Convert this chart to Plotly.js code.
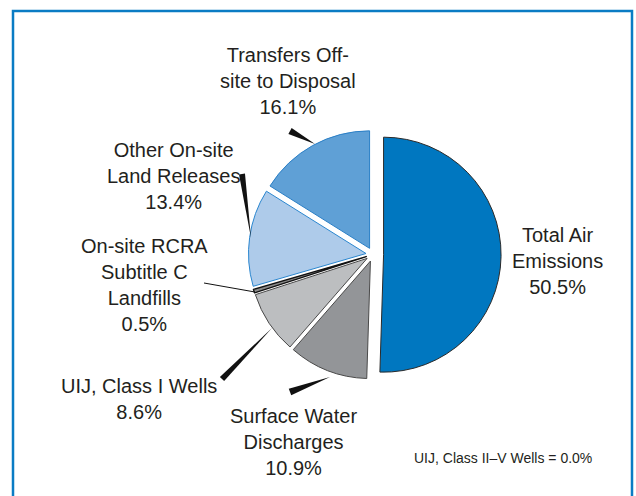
<!DOCTYPE html>
<html>
<head>
<meta charset="utf-8">
<script src="https://cdn.plot.ly/plotly-3.0.1.min.js"></script>
<style>
  html, body { margin: 0; padding: 0; background: #ffffff; }
  #chart { width: 636px; height: 496px; }
</style>
</head>
<body>
<div id="chart"></div>
<script>
// ---- data ----
const categories = [
  'Total Air Emissions',
  'Surface Water Discharges',
  'UIJ, Class I Wells',
  'On-site RCRA Subtitle C Landfills',
  'Other On-site Land Releases',
  'Transfers Off-site to Disposal'
];
const shares = [50.5, 10.9, 8.6, 0.5, 13.4, 16.1];
const labelLines = [
  'Total Air<br>Emissions',
  'Surface Water<br>Discharges',
  'UIJ, Class I Wells',
  'On-site RCRA<br>Subtitle C<br>Landfills',
  'Other On-site<br>Land Releases',
  'Transfers Off-<br>site to Disposal'
];
const footnoteCategory = 'UIJ, Class II\u2013V Wells';
const footnoteShare = 0.0;

// ---- styling ----
const sliceColors = ['#0077c0', '#939598', '#bcbec0', '#8a8a8a', '#aecbea', '#5fa0d6'];
const sliceLines  = ['#2a2a2a', '#4a4a4a', '#4a4a4a', '#111111', '#2a86cf', '#2a7fc6'];
const sliceLineW  = [1, 1, 1, 1.4, 1, 1];
const slicePull   = [0.09, 0.06, 0.06, 0.06, 0.06, 0.06];

const W = 636, H = 496;
const px = x => x / W;
const py = y => 1 - y / H;

// label placement (pixel centres)
const labelPos = [
  [557, 261], [293, 442], [139, 399], [144, 285], [173, 176], [288, 81]
];
// pointer wedges: [thickX, thickY, tipX, tipY, width]
const pointers = [
  [290, 131, 315, 144, 7],
  [242, 174, 251, 238, 6],
  [222, 379, 272, 328, 6],
  [290, 392, 330, 377, 7]
];
const leader = [204, 283, 255, 292];

const FONT = 'Liberation Sans, Arial, Helvetica, sans-serif';
const TXT = '#231f20';

const annotations = categories.map((c, i) => ({
  xref: 'paper', yref: 'paper',
  x: px(labelPos[i][0]), y: py(labelPos[i][1]),
  xanchor: 'center', yanchor: 'middle',
  text: labelLines[i] + '<br>' + shares[i].toFixed(1) + '%',
  showarrow: false, align: 'center',
  font: { family: FONT, size: 20, color: TXT }
}));
annotations.push({
  xref: 'paper', yref: 'paper',
  x: px(503), y: py(458), xanchor: 'center', yanchor: 'middle',
  text: footnoteCategory + ' = ' + footnoteShare.toFixed(1) + '%',
  showarrow: false,
  font: { family: FONT, size: 14, color: TXT }
});

const shapes = [];
// frame
shapes.push({
  type: 'rect', xref: 'paper', yref: 'paper',
  x0: px(13), x1: px(632), y0: py(520), y1: py(11),
  line: { color: '#0a7cc4', width: 2.5 }, fillcolor: 'rgba(0,0,0,0)', layer: 'below'
});
pointers.forEach(p => {
  const [x0, y0, x1, y1, w] = p;
  const dx = x1 - x0, dy = y1 - y0, L = Math.hypot(dx, dy);
  const nx = -dy / L * w / 2, ny = dx / L * w / 2;
  const path = 'M ' + px(x0 + nx) + ' ' + py(y0 + ny) +
               ' L ' + px(x0 - nx) + ' ' + py(y0 - ny) +
               ' L ' + px(x1) + ' ' + py(y1) + ' Z';
  shapes.push({ type: 'path', xref: 'paper', yref: 'paper', path: path,
                fillcolor: '#111111', line: { width: 0 } });
});
shapes.push({
  type: 'line', xref: 'paper', yref: 'paper',
  x0: px(leader[0]), y0: py(leader[1]), x1: px(leader[2]), y1: py(leader[3]),
  line: { color: '#111111', width: 1 }
});

// pie box: centre (373, 254.5), radius 117.5, max pull 0.09
const cx = 373, cy = 254.5, r = 117.5, half = r * (1 + Math.max(...slicePull));

const trace = {
  type: 'pie',
  labels: categories,
  values: shares,
  sort: false,
  direction: 'clockwise',
  rotation: 0,
  pull: slicePull,
  textinfo: 'none',
  hoverinfo: 'none',
  showlegend: false,
  marker: { colors: sliceColors, line: { color: sliceLines, width: sliceLineW } },
  domain: {
    x: [px(cx - half), px(cx + half)],
    y: [py(cy + half), py(cy - half)]
  }
};

const layout = {
  width: W, height: H,
  margin: { l: 0, r: 0, t: 0, b: 0 },
  paper_bgcolor: '#ffffff',
  showlegend: false,
  annotations: annotations,
  shapes: shapes
};

Plotly.newPlot('chart', [trace], layout, { displayModeBar: false, staticPlot: true });
</script>
</body>
</html>
